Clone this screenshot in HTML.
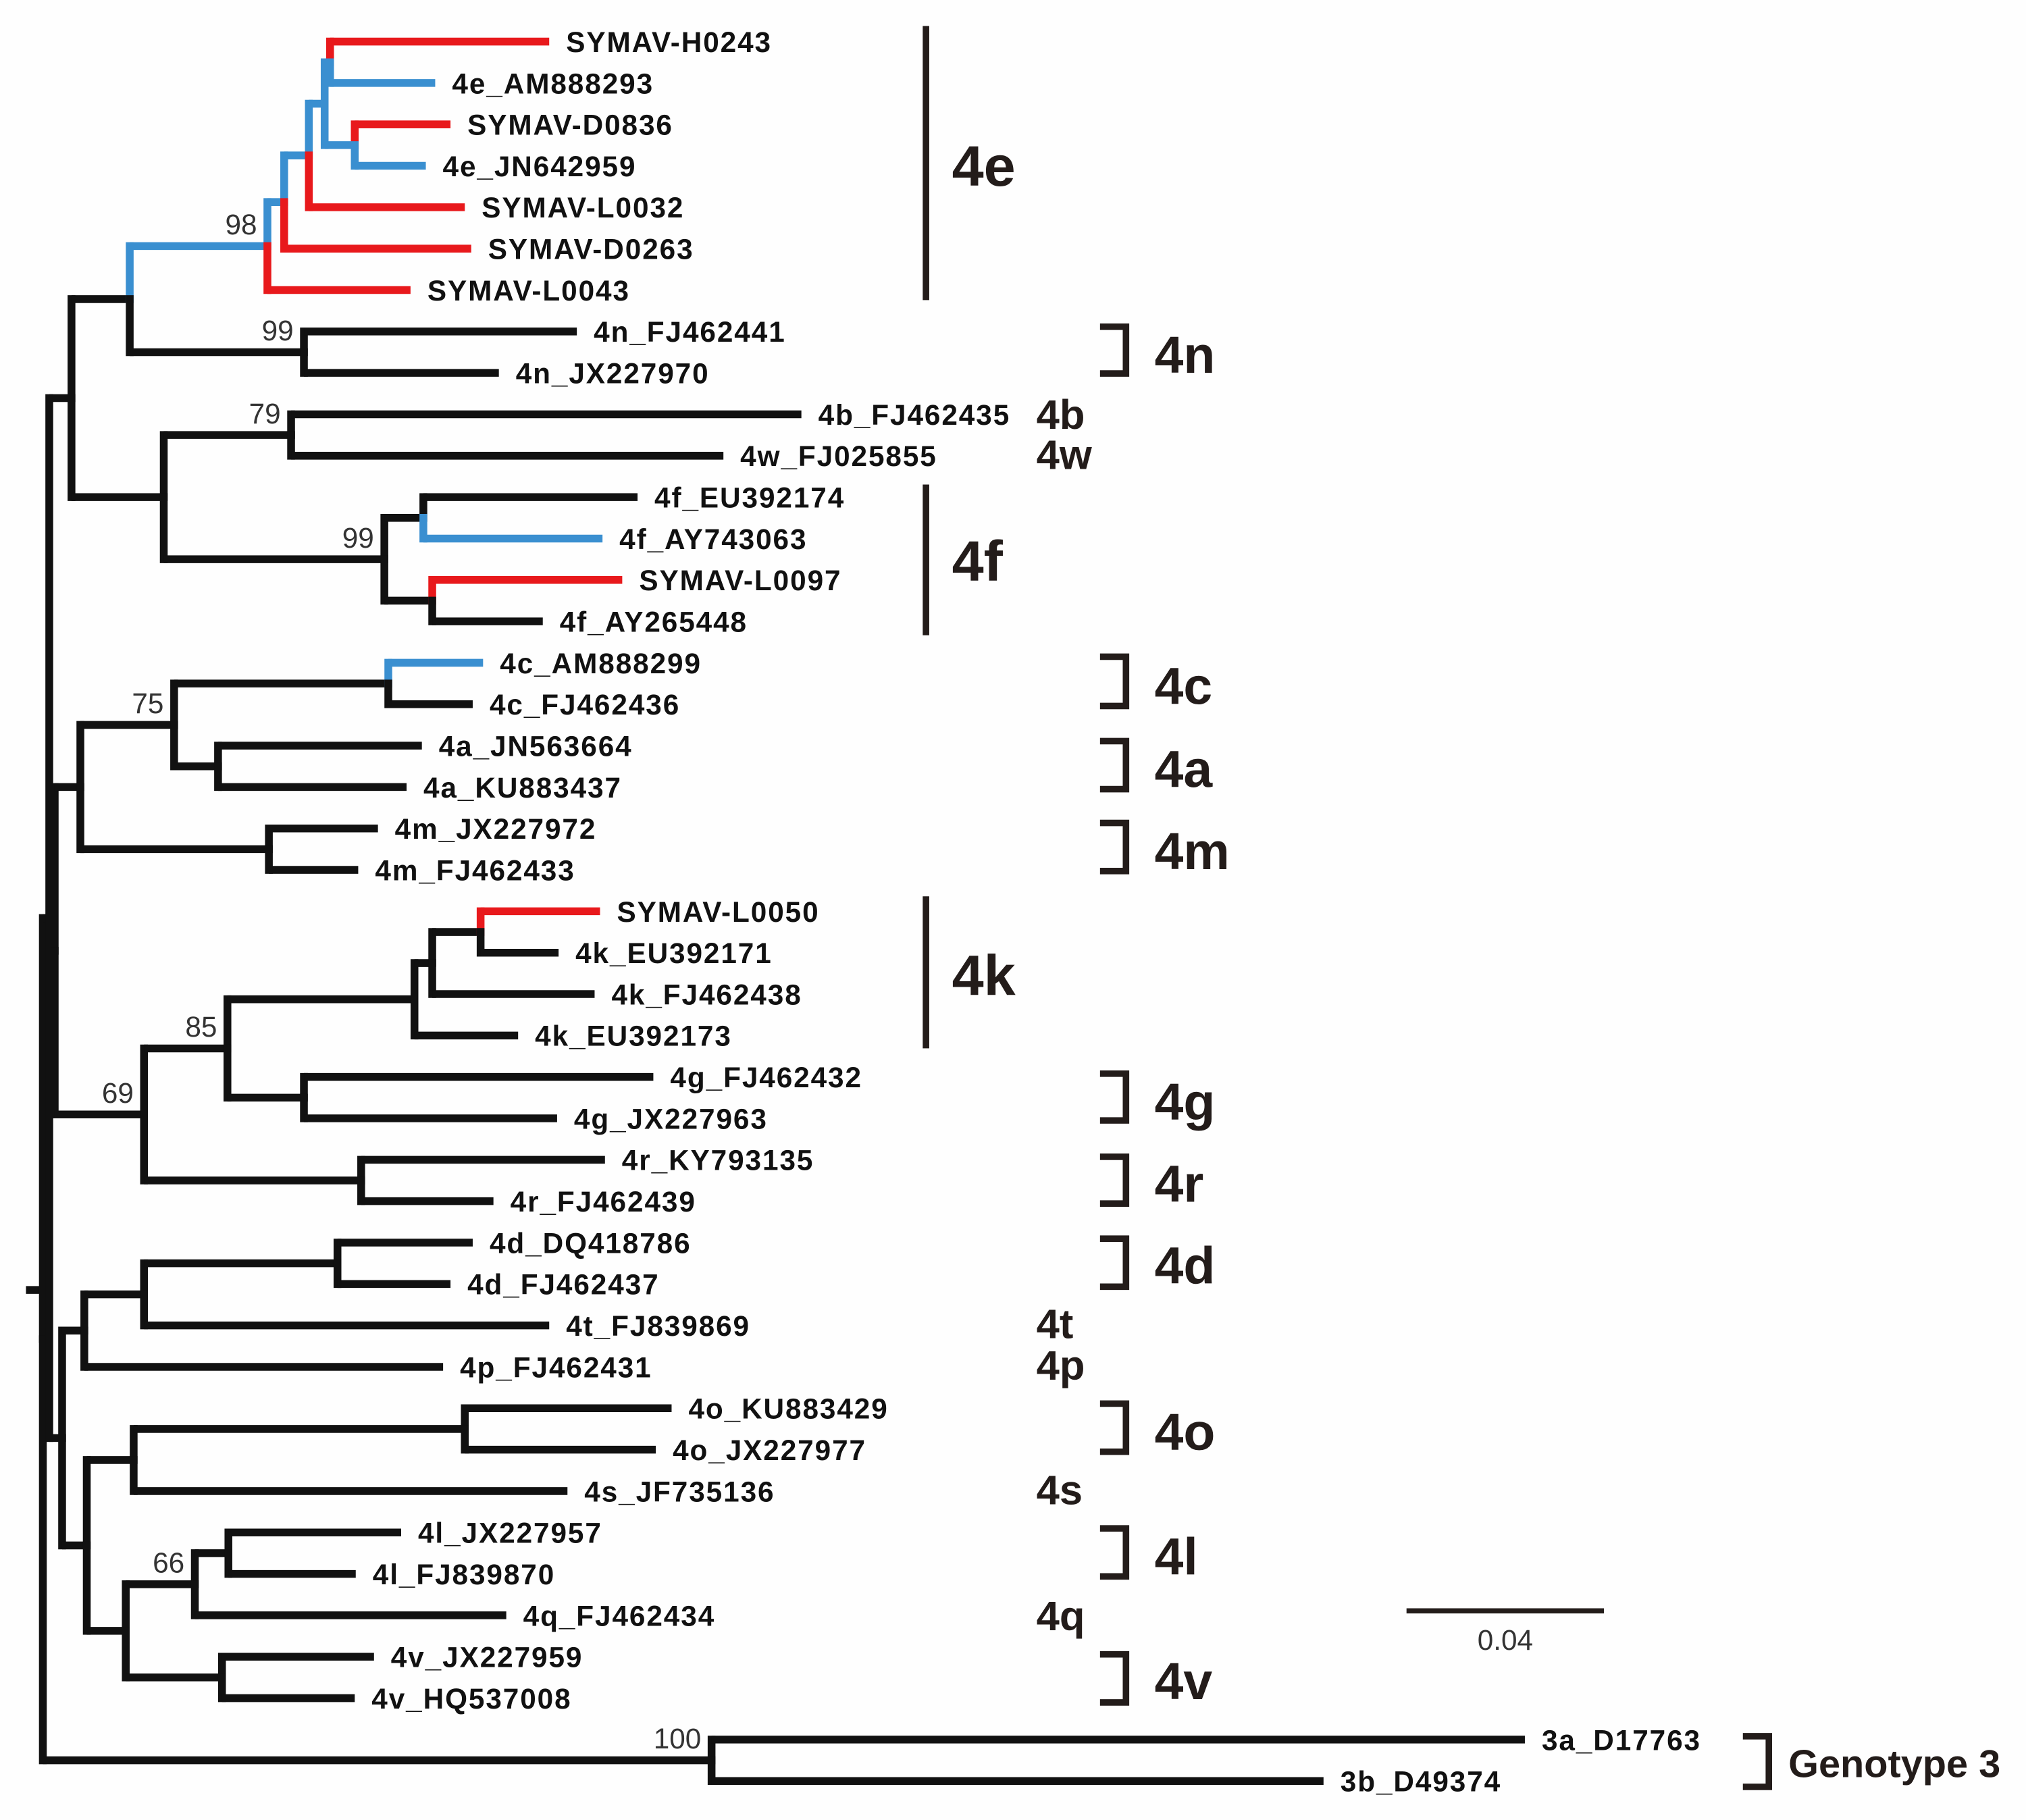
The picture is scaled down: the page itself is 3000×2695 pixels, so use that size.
<!DOCTYPE html>
<html><head><meta charset="utf-8">
<style>html,body{margin:0;padding:0;background:#fff;}svg{display:block;}</style>
</head><body>
<svg id="chart" xmlns="http://www.w3.org/2000/svg" width="3000" height="2695" viewBox="0 0 1560 1401" preserveAspectRatio="none">
<rect width="1560" height="1401" fill="#fefefe"/>
<g id="branches"></g>
<g id="leaves" font-family="Liberation Sans, sans-serif" font-weight="bold" font-size="22" letter-spacing="1" fill="#111"></g>
<g id="boot" font-family="Liberation Sans, sans-serif" font-size="22" fill="#333"></g>
<g id="clades" font-family="Liberation Sans, sans-serif" font-weight="bold" fill="#231c1a"></g>
<g>
<line x1="1083" y1="1240" x2="1235" y2="1240" stroke="#231c1a" stroke-width="4"/>
<text x="1159" y="1270" text-anchor="middle" font-family="Liberation Sans, sans-serif" font-size="22" fill="#333">0.04</text>
</g>
</svg>
<script>
const R='#e8191c',B='#3a8fd0',K='#111';
const leafNames=['SYMAV-H0243','4e_AM888293','SYMAV-D0836','4e_JN642959','SYMAV-L0032','SYMAV-D0263','SYMAV-L0043','4n_FJ462441','4n_JX227970','4b_FJ462435','4w_FJ025855','4f_EU392174','4f_AY743063','SYMAV-L0097','4f_AY265448','4c_AM888299','4c_FJ462436','4a_JN563664','4a_KU883437','4m_JX227972','4m_FJ462433','SYMAV-L0050','4k_EU392171','4k_FJ462438','4k_EU392173','4g_FJ462432','4g_JX227963','4r_KY793135','4r_FJ462439','4d_DQ418786','4d_FJ462437','4t_FJ839869','4p_FJ462431','4o_KU883429','4o_JX227977','4s_JF735136','4l_JX227957','4l_FJ839870','4q_FJ462434','4v_JX227959','4v_HQ537008','3a_D17763','3b_D49374'];
const leafDepths=[0.1026,0.0795,0.0826,0.0776,0.0855,0.0868,0.0745,0.1082,0.0924,0.1537,0.1379,0.1205,0.1134,0.1174,0.1013,0.0892,0.0871,0.0768,0.0737,0.0679,0.0639,0.1129,0.1045,0.1118,0.0963,0.1237,0.1042,0.1139,0.0913,0.0871,0.0826,0.1026,0.0811,0.1274,0.1242,0.1063,0.0726,0.0634,0.0939,0.0671,0.0632,0.3003,0.2595];
const leafColors=[R,B,R,B,R,R,R,K,K,K,K,K,B,R,K,B,K,K,K,K,K,R,K,K,K,K,K,K,K,K,K,K,K,K,K,K,K,K,K,K,K,K,K];
const cladeNames=['4e','4n','4b','4w','4f','4c','4a','4m','4k','4g','4r','4d','4t','4p','4o','4s','4l','4q','4v','Genotype 3'];

function xs(d){return 33+d*3800;}
function ys(i){return 32+i*31.88;}
function L(i){return {leaf:i,d:leafDepths[i],c:leafColors[i]};}
function N(d,ch,c,b){return {d:d,ch:ch,c:c||K,b:b};}

const tree=N(0,[
 N(0.0013,[
  N(0.0058,[
   N(0.0176,[
    N(0.0455,[N(0.0489,[N(0.0539,[N(0.0571,[N(0.0582,[L(0),L(1)],B),N(0.0632,[L(2),L(3)],B)],B),L(4)],B),L(5)],B),L(6)],B,'98'),
    N(0.0529,[L(7),L(8)],K,'99')]),
   N(0.0245,[
    N(0.0503,[L(9),L(10)],K,'79'),
    N(0.0692,[N(0.0771,[L(11),L(12)]),N(0.0789,[L(13),L(14)])],K,'99')])]),
  N(0.0024,[
   N(0.0076,[N(0.0266,[N(0.0700,[L(15),L(16)]),N(0.0355,[L(17),L(18)])],K,'75'),N(0.0458,[L(19),L(20)])]),
   N(0.0205,[N(0.0374,[N(0.0753,[N(0.0789,[N(0.0887,[L(21),L(22)]),L(23)]),L(24)]),N(0.0529,[L(25),L(26)])],K,'85'),N(0.0645,[L(27),L(28)])],K,'69')]),
  N(0.0039,[
   N(0.0084,[N(0.0205,[N(0.0597,[L(29),L(30)]),L(31)]),L(32)]),
   N(0.0089,[N(0.0184,[N(0.0855,[L(33),L(34)]),L(35)]),N(0.0168,[N(0.0308,[N(0.0376,[L(36),L(37)]),L(38)],K,'66'),N(0.0363,[L(39),L(40)])])])])
 ]),
 N(0.1355,[L(41),L(42)],K,'100')
]);

const NS='http://www.w3.org/2000/svg';
const gB=document.getElementById('branches'),gL=document.getElementById('leaves'),gT=document.getElementById('boot'),gC=document.getElementById('clades');
function el(t,a,p){const e=document.createElementNS(NS,t);for(const k in a)e.setAttribute(k,a[k]);p.appendChild(e);return e;}
function lay(n){if(n.leaf!==undefined){n.y=ys(n.leaf);return n.y;}const v=n.ch.map(lay);n.y=(Math.min(...v)+Math.max(...v))/2;return n.y;}
lay(tree);
function draw(n){
 if(n.leaf!==undefined){
  const t=el('text',{x:xs(n.d)+13,y:n.y+8},gL);t.textContent=leafNames[n.leaf];
  
  
  return;}
 const x=xs(n.d);
 n.ch.forEach(c=>{
  const v=el('line',{x1:x,y1:n.y,x2:x,y2:c.y,stroke:c.c,'stroke-width':6,'stroke-linecap':'square'},gB);
  
  
  const h=el('line',{x1:x,y1:c.y,x2:xs(c.d),y2:c.y,stroke:c.c,'stroke-width':6},gB);
  
  
 });
 n.ch.forEach(draw);
 if(n.b){const t=el('text',{x:x-8,y:n.y-9,'text-anchor':'end'},gT);t.textContent=n.b;
  
  }
}
const stub=el('line',{x1:20,y1:993,x2:33,y2:993,stroke:K,'stroke-width':6},gB);


draw(tree);

const ann=[[0,'bar',20,231,733,143,44],[1,'br',249,290,889,287,40],[2,'none',0,0,798,330,32],[3,'none',0,0,798,361,32],
[4,'bar',373,489,733,447,44],[5,'br',503,546,889,542,40],[6,'br',568,610,889,606,40],[7,'br',631,673,889,669,40],
[8,'bar',690,807,733,766,44],[9,'br',824,865,889,862,40],[10,'br',888,929,889,925,40],[11,'br',951,993,889,988,40],
[12,'none',0,0,798,1030,32],[13,'none',0,0,798,1062,32],[14,'br',1078,1120,889,1116,40],[15,'none',0,0,798,1158,32],
[16,'br',1174,1216,889,1212,40],[17,'none',0,0,798,1255,32],[18,'br',1271,1313,889,1308,40],[19,'br3',1334,1378,1377,1368,30]];
ann.forEach(a=>{
 const nm=cladeNames[a[0]];
 if(a[1]==='bar'){const l=el('line',{x1:713,y1:a[2],x2:713,y2:a[3],stroke:'#231c1a','stroke-width':5},gC);
  
  }
 if(a[1]==='br'||a[1]==='br3'){const bx=a[1]==='br'?867:1362,lx=bx-20;
  const p=el('path',{d:`M${lx} ${a[2]+2.5}H${bx}V${a[3]-2.5}H${lx}`,fill:'none',stroke:'#231c1a','stroke-width':5},gC);
  
  }
 const t=el('text',{x:a[4],y:a[5],'font-size':a[6]},gC);t.textContent=nm;
 
 
});
</script>
</body></html>
